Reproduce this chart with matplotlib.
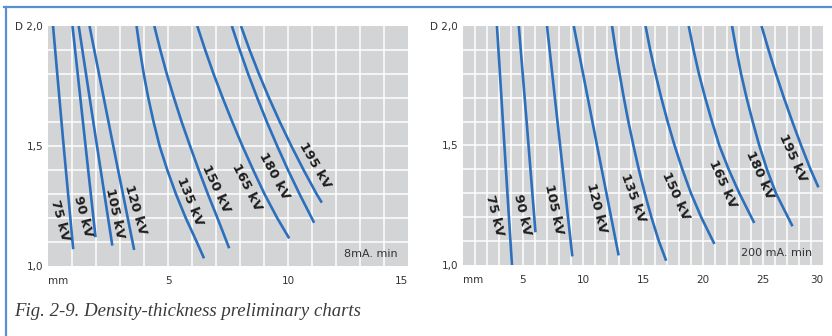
import matplotlib
matplotlib.use("Agg")
import matplotlib.pyplot as plt
from matplotlib.lines import Line2D
import numpy as np

# ---- data ----
kv_labels = ['75 kV', '90 kV', '105 kV', '120 kV', '135 kV',
             '150 kV', '165 kV', '180 kV', '195 kV']

# left chart: 8 mA.min
left_x = [
    [0.21, 0.62, 1.05],
    [1.02, 1.50, 1.98],
    [1.28, 1.98, 2.68],
    [1.73, 2.66, 3.59],
    [3.69, 3.83, 3.99, 4.18, 4.40, 4.65, 4.97, 5.33, 5.74, 6.20, 6.50],
    [4.43, 4.68, 4.95, 5.25, 5.57, 5.92, 6.28, 6.66, 7.06, 7.55],
    [6.22, 6.55, 6.90, 7.28, 7.68, 8.10, 8.55, 9.02, 9.55, 10.05],
    [7.66, 7.99, 8.34, 8.72, 9.12, 9.55, 10.00, 10.48, 11.09],
    [8.04, 8.40, 8.79, 9.21, 9.66, 10.14, 10.65, 11.19, 11.41],
]
left_y = [
    [2.0, 1.535, 1.07],
    [2.0, 1.56, 1.12],
    [2.0, 1.54, 1.085],
    [2.0, 1.53, 1.067],
    [2.0, 1.9, 1.8, 1.7, 1.6, 1.5, 1.4, 1.3, 1.2, 1.1, 1.032],
    [2.0, 1.9, 1.8, 1.7, 1.6, 1.5, 1.4, 1.3, 1.2, 1.074],
    [2.0, 1.9, 1.8, 1.7, 1.6, 1.5, 1.4, 1.3, 1.2, 1.115],
    [2.0, 1.9, 1.8, 1.7, 1.6, 1.5, 1.4, 1.3, 1.18],
    [2.0, 1.9, 1.8, 1.7, 1.6, 1.5, 1.4, 1.3, 1.264],
]
left_label_x = [0.51, 1.45, 2.78, 3.66, 5.89, 6.99, 8.29, 9.41, 11.12]
left_label_y = [1.19, 1.206, 1.22, 1.233, 1.27, 1.32, 1.33, 1.375, 1.42]
left_label_rot = [-75, -75, -78, -74, -68, -65, -63, -62, -60]

# right chart: 200 mA.min
right_x = [
    [2.83, 3.45, 4.08],
    [4.65, 5.35, 6.04],
    [7.00, 8.05, 9.11],
    [9.23, 11.17, 12.97],
    [12.42, 12.72, 13.05, 13.40, 13.78, 14.20, 14.65, 15.15, 15.70, 16.32, 16.93],
    [15.21, 15.60, 16.04, 16.52, 17.05, 17.63, 18.28, 19.00, 19.85, 20.95],
    [18.81, 19.21, 19.66, 20.18, 20.75, 21.36, 22.14, 23.03, 24.27],
    [22.42, 22.78, 23.17, 23.63, 24.14, 24.69, 25.33, 26.08, 27.46],
    [24.88, 25.46, 26.08, 26.74, 27.44, 28.18, 28.96, 29.62],
]
right_y = [
    [2.0, 1.5, 1.0],
    [2.0, 1.57, 1.137],
    [2.0, 1.52, 1.036],
    [2.0, 1.5, 1.04],
    [2.0, 1.9, 1.8, 1.7, 1.6, 1.5, 1.4, 1.3, 1.2, 1.1, 1.018],
    [2.0, 1.9, 1.8, 1.7, 1.6, 1.5, 1.4, 1.3, 1.2, 1.088],
    [2.0, 1.9, 1.8, 1.7, 1.6, 1.5, 1.4, 1.3, 1.176],
    [2.0, 1.9, 1.8, 1.7, 1.6, 1.5, 1.4, 1.3, 1.162],
    [2.0, 1.9, 1.8, 1.7, 1.6, 1.5, 1.4, 1.325],
]
right_label_x = [2.63, 4.93, 7.56, 11.11, 14.16, 17.68, 21.61, 24.69, 27.46]
right_label_y = [1.206, 1.209, 1.234, 1.24, 1.28, 1.29, 1.34, 1.377, 1.448]
right_label_rot = [-76, -77, -78, -76, -70, -66, -66, -66, -66]

y_ticks = [1.0, 1.5, 2.0]
y_ticklabels = ['1,0', '1,5', 'D 2,0']
left_xticks = [0, 5, 10, 15]
left_xticklabels = ['mm', '5', '10', '15']
right_xticks = [0, 5, 10, 15, 20, 25, 30]
right_xticklabels = ['mm', '5', '10', '15', '20', '25', '30']

LINE_BLUE = '#2b6fbd'
FRAME_BLUE = '#5b8fd4'
TEXT = '#333333'

W, H = 832, 336
fig = plt.figure(figsize=(W / 100, H / 100), dpi=100)


def make_panel(rect, xmax, xticks, xticklabels, xs, ys, lx, ly, lrot, note):
    ax = fig.add_axes(rect)
    ax.set_facecolor('#d3d4d6')
    ax.set_xlim(0, xmax)
    ax.set_ylim(1.0, 2.0)
    for s in ax.spines.values():
        s.set_visible(False)

    # white grid every 1 mm and every 0.1 D (kept even where a label tick sits)
    ax.xaxis.remove_overlapping_locs = False
    ax.yaxis.remove_overlapping_locs = False
    ax.set_xticks(np.arange(1, xmax), minor=True)
    ax.set_yticks(np.arange(1.1, 1.95, 0.1), minor=True)
    ax.grid(which='minor', color='white', lw=1.1)
    ax.grid(which='major', visible=False)
    ax.set_axisbelow(True)

    ax.set_xticks(xticks)
    ax.set_xticklabels(xticklabels)
    ax.set_yticks(y_ticks)
    ax.set_yticklabels(y_ticklabels)
    ax.tick_params(which='both', length=0, colors=TEXT, labelsize=7.5)
    ax.tick_params(axis='x', pad=7)
    ax.tick_params(axis='y', pad=3.5)
    xl = ax.get_xticklabels()
    xl[0].set_ha('left')
    xl[-1].set_ha('right')

    for x, y in zip(xs, ys):
        ax.plot(x, y, color=LINE_BLUE, lw=1.9, solid_capstyle='butt', zorder=3)
    for name, x, y, r in zip(kv_labels, lx, ly, lrot):
        ax.text(x, y, name, rotation=r, ha='center', va='center',
                fontsize=9.5, fontweight='bold', color='#1e1e1e', zorder=4)

    ax.text(0.97, 0.05, note, transform=ax.transAxes, ha='right', va='center',
            fontsize=8, color=TEXT)
    return ax


make_panel([48 / W, 70 / H, 360 / W, 240 / H], 15, left_xticks, left_xticklabels,
           left_x, left_y, left_label_x, left_label_y, left_label_rot, '8mA. min')
make_panel([463 / W, 71 / H, 360 / W, 239 / H], 30, right_xticks, right_xticklabels,
           right_x, right_y, right_label_x, right_label_y, right_label_rot, '200 mA. min')

# blue frame lines
fig.add_artist(Line2D([4 / W, 1.0], [1 - 6.5 / H, 1 - 6.5 / H],
                      transform=fig.transFigure, color=FRAME_BLUE, lw=1.6))
fig.add_artist(Line2D([6 / W, 6 / W], [0, 1 - 6.5 / H],
                      transform=fig.transFigure, color=FRAME_BLUE, lw=1.6))

fig.text(14 / W, 1 - 312 / H, 'Fig. 2-9. Density-thickness preliminary charts',
         fontsize=13.5, fontstyle='italic', family='Liberation Serif',
         color='#3a3a3a', ha='left', va='center')

fig.savefig('out.png', dpi=100)
